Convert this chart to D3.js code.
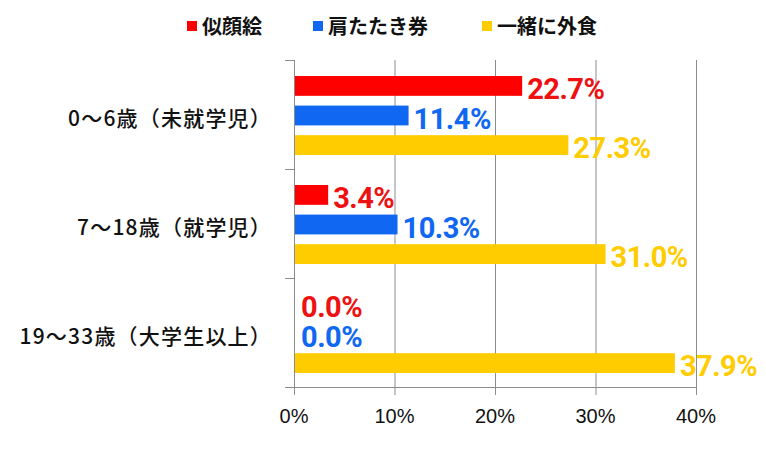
<!DOCTYPE html>
<html><head><meta charset="utf-8">
<script src="https://cdn.jsdelivr.net/npm/d3@7/dist/d3.min.js"></script>
<style>body{margin:0;background:#fff;}svg{display:block;}</style>
</head><body><svg id="c" width="766" height="455"></svg>
<script>
const categories = ["0〜6歳（未就学児）", "7〜18歳（就学児）", "19〜33歳（大学生以上）"];
const seriesNames = ["似顔絵", "肩たたき券", "一緒に外食"];
const portrait = [22.7, 3.4, 0.0];
const shoulder = [11.4, 10.3, 0.0];
const dinner = [27.3, 31.0, 37.9];
const tickValues = [0, 10, 20, 30, 40];
const tickLabels = ["0%", "10%", "20%", "30%", "40%"];

const seriesValues = [portrait, shoulder, dinner];
const barColors = ["#ff0000", "#0f67f2", "#ffcc00"];
const labelColors = ["#ee1111", "#0f67f2", "#ffcc00"];

const svg = d3.select("#c");
const x = d3.scaleLinear().domain([0, 40]).range([294, 696]);
const y = d3.scaleBand().domain(categories).range([60, 387]);
const ys = d3.scaleBand().domain(seriesNames).range([16, 95]).paddingInner(0.33);

// grid lines
svg.append("g").selectAll("line").data(tickValues.slice(1)).join("line")
  .attr("x1", d => x(d)+0.5).attr("x2", d => x(d)+0.5)
  .attr("y1", 60).attr("y2", 395)
  .attr("stroke", "#8c8c8c").attr("stroke-width", 1);

// bottom axis line
svg.append("line").attr("x1", 286).attr("x2", x(40)+1).attr("y1", 387.5).attr("y2", 387.5)
  .attr("stroke", "#8c8c8c");
// zero tick
svg.append("line").attr("x1", x(0)+0.5).attr("x2", x(0)+0.5).attr("y1", 387).attr("y2", 395)
  .attr("stroke", "#8c8c8c");
// left axis
svg.append("line").attr("x1", x(0)+0.5).attr("x2", x(0)+0.5).attr("y1", 60).attr("y2", 388)
  .attr("stroke", "#8c8c8c");
const bounds = categories.map(c => y(c)).concat([387]);
svg.append("g").selectAll("line").data(bounds).join("line")
  .attr("x1", 285).attr("x2", x(0)).attr("y1", d => Math.round(d)+0.5).attr("y2", d => Math.round(d)+0.5)
  .attr("stroke", "#8c8c8c");

// tick labels
svg.append("g").selectAll("text").data(tickValues).join("text")
  .attr("x", d => x(d)).attr("y", 423)
  .attr("text-anchor", "middle")
  .attr("font-family", "Liberation Sans, Arial, sans-serif")
  .attr("font-size", 20).attr("fill", "#111")
  .text((d, i) => tickLabels[i]);

// category labels
svg.append("g").selectAll("text").data(categories).join("text")
  .attr("x", 272).attr("y", d => y(d) + y.bandwidth()/2 + 11)
  .attr("text-anchor", "end")
  .attr("font-family", "Noto Sans CJK JP, sans-serif")
  .attr("font-weight", 500)
  .attr("font-size", 21).attr("letter-spacing", 1.2).attr("fill", "#111")
  .text(d => d);

// bars
seriesNames.forEach((s, si) => {
  const g = svg.append("g");
  g.selectAll("rect").data(categories).join("rect")
    .attr("x", x(0)+1)
    .attr("y", c => y(c) + ys(s))
    .attr("width", (c, i) => Math.max(0, x(seriesValues[si][i]) - x(0) - 1))
    .attr("height", ys.bandwidth())
    .attr("fill", barColors[si]);
  g.selectAll("text").data(categories).join("text")
    .attr("x", (c, i) => x(seriesValues[si][i]) + (seriesValues[si][i] === 0 ? 7 : 5))
    .attr("y", c => y(c) + ys(s) + ys.bandwidth()/2 + 13)
    .attr("font-family", "Roboto, sans-serif")
    .attr("font-weight", 700)
    .attr("font-size", 29)
    .attr("letter-spacing", -0.5)
    .attr("fill", labelColors[si])
    .text((c, i) => seriesValues[si][i].toFixed(1) + "%");
});

// legend
const legX = [187, 313, 482];
const leg = svg.append("g");
seriesNames.forEach((s, i) => {
  leg.append("rect").attr("x", legX[i]).attr("y", 21).attr("width", 10).attr("height", 10)
    .attr("fill", barColors[i]);
  leg.append("text").attr("x", legX[i] + 15).attr("y", 34)
    .attr("font-family", "Noto Sans CJK JP, sans-serif")
    .attr("font-weight", 700).attr("font-size", 20).attr("fill", "#111")
    .text(s);
});
</script></body></html>
